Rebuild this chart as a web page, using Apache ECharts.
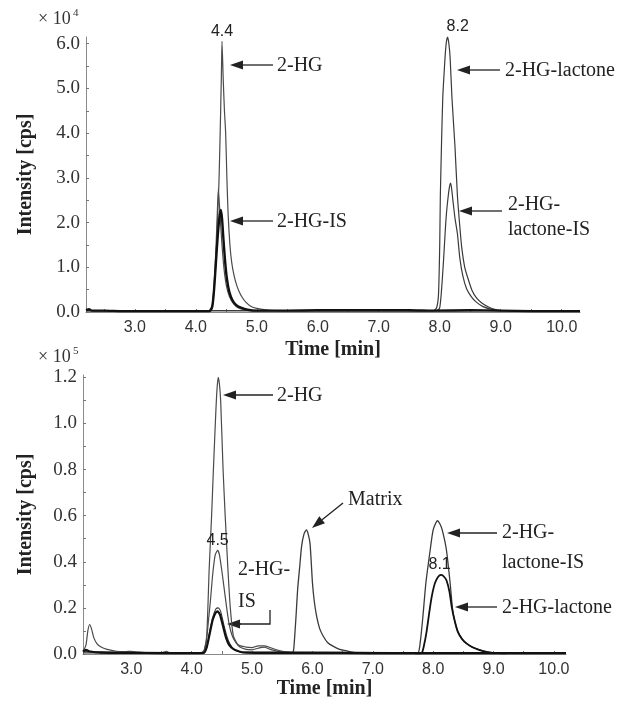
<!DOCTYPE html>
<html><head><meta charset="utf-8">
<script src="https://cdn.jsdelivr.net/npm/echarts@6/dist/echarts.min.js"></script>
<style>html,body{margin:0;padding:0;background:#fff}#c{width:622px;height:706px}</style>
</head><body><div id="c"></div>
<script>
// ---------- DATA (time [min], intensity in ×10^4 cps for top, ×10^5 cps for bottom) ----------
const xTicks = [3, 4, 5, 6, 7, 8, 9, 10];
const topYTicks = [0, 1, 2, 3, 4, 5, 6];
const botYTicks = [0, 0.2, 0.4, 0.6, 0.8, 1.0, 1.2];

// Top panel
const top2HG = [[2.2,0.03],[3.0,0.02],[4.0,0.02],[4.24,0.02],[4.27,0.1],[4.3,0.5],[4.33,1.1],[4.36,2.2],[4.38,2.9],[4.4,4.0],[4.42,5.3],[4.43,6.05],[4.45,5.2],[4.47,4.5],[4.49,4.0],[4.51,3.0],[4.53,2.2],[4.56,1.5],[4.59,1.1],[4.63,0.8],[4.67,0.6],[4.71,0.46],[4.76,0.33],[4.82,0.22],[4.9,0.13],[5.0,0.08],[5.15,0.05],[5.4,0.03],[6.5,0.03],[10.3,0.03]];
const top2HGb = [[2.2,0.03],[4.24,0.02],[4.27,0.15],[4.3,0.6],[4.33,1.4],[4.35,2.1],[4.37,2.75],[4.39,2.35],[4.41,1.9],[4.43,1.5],[4.46,1.0],[4.5,0.6],[4.55,0.35],[4.62,0.18],[4.7,0.09],[4.8,0.05],[5.0,0.03],[10.3,0.03]];
const top2HGIS = [[2.2,0.04],[2.25,0.06],[2.3,0.03],[2.5,0.03],[2.8,0.02],[3.2,0.02],[3.6,0.02],[4.0,0.02],[4.22,0.02],[4.27,0.12],[4.3,0.5],[4.33,1.1],[4.36,1.7],[4.39,2.15],[4.41,2.28],[4.43,2.1],[4.45,1.7],[4.48,1.15],[4.51,0.75],[4.55,0.45],[4.6,0.27],[4.66,0.16],[4.75,0.09],[4.85,0.05],[5.0,0.03],[5.5,0.03],[6.0,0.04],[6.5,0.04],[7.0,0.04],[7.5,0.04],[7.9,0.03],[8.5,0.04],[9.0,0.03],[9.5,0.02],[10.3,0.02]];
const topLac = [[2.2,0.03],[7.9,0.03],[7.95,0.1],[7.98,0.4],[8.0,1.5],[8.01,2.6],[8.03,3.8],[8.05,4.8],[8.07,5.3],[8.09,5.75],[8.11,6.05],[8.13,6.15],[8.15,6.0],[8.17,5.7],[8.2,4.8],[8.25,3.7],[8.29,2.6],[8.33,1.9],[8.36,1.45],[8.41,1.0],[8.47,0.72],[8.53,0.48],[8.6,0.32],[8.69,0.2],[8.8,0.11],[8.9,0.06],[9.01,0.03],[10.3,0.03]];
const topLacIS = [[2.2,0.03],[7.95,0.03],[8.0,0.1],[8.03,0.5],[8.06,1.1],[8.09,1.8],[8.11,2.2],[8.14,2.6],[8.16,2.8],[8.18,2.88],[8.2,2.7],[8.22,2.45],[8.25,2.1],[8.29,1.75],[8.33,1.2],[8.38,0.8],[8.44,0.52],[8.52,0.34],[8.6,0.22],[8.71,0.12],[8.85,0.06],[9.0,0.03],[10.3,0.03]];

// Bottom panel
const bot2HG = [[2.2,0.01],[2.25,0.04],[2.28,0.1],[2.31,0.128],[2.34,0.11],[2.38,0.07],[2.43,0.045],[2.5,0.03],[2.6,0.02],[2.75,0.012],[2.9,0.01],[3.0,0.012],[3.1,0.008],[3.3,0.005],[3.5,0.005],[3.58,0.012],[3.63,0.005],[3.8,0.004],[4.0,0.004],[4.17,0.006],[4.21,0.02],[4.25,0.08],[4.29,0.37],[4.33,0.6],[4.36,0.8],[4.4,1.05],[4.42,1.15],[4.44,1.2],[4.46,1.17],[4.48,1.1],[4.52,0.8],[4.555,0.6],[4.6,0.37],[4.64,0.2],[4.69,0.08],[4.77,0.04],[4.9,0.03],[5.0,0.028],[5.1,0.035],[5.2,0.035],[5.3,0.028],[5.45,0.015],[5.6,0.008],[5.8,0.005],[7.0,0.004],[10.2,0.004]];
const bot2HGb = [[2.2,0.01],[4.18,0.005],[4.24,0.05],[4.28,0.15],[4.31,0.23],[4.35,0.35],[4.39,0.43],[4.43,0.45],[4.46,0.43],[4.5,0.36],[4.54,0.28],[4.58,0.2],[4.62,0.13],[4.67,0.08],[4.73,0.05],[4.8,0.03],[4.9,0.02],[5.0,0.018],[5.1,0.025],[5.2,0.03],[5.3,0.02],[5.45,0.01],[5.6,0.005],[10.2,0.004]];
const bot2HGIS = [[2.2,0.012],[2.25,0.018],[2.3,0.012],[2.5,0.006],[3.0,0.005],[3.5,0.004],[4.0,0.004],[4.2,0.005],[4.25,0.03],[4.3,0.09],[4.35,0.15],[4.4,0.18],[4.43,0.185],[4.47,0.17],[4.52,0.12],[4.57,0.07],[4.62,0.04],[4.7,0.02],[4.8,0.01],[4.9,0.006],[5.5,0.005],[6.0,0.005],[7.0,0.004],[8.0,0.004],[9.0,0.004],[10.2,0.004]];
const bot2HGISb = [[2.2,0.005],[4.2,0.005],[4.25,0.03],[4.3,0.1],[4.35,0.16],[4.4,0.195],[4.44,0.2],[4.48,0.185],[4.53,0.13],[4.58,0.08],[4.63,0.045],[4.7,0.02],[4.8,0.01],[10.2,0.004]];
const botMatrix = [[5.6,0.003],[5.67,0.005],[5.69,0.02],[5.71,0.09],[5.73,0.17],[5.755,0.28],[5.79,0.38],[5.82,0.466],[5.86,0.52],[5.9,0.538],[5.93,0.52],[5.96,0.48],[5.98,0.4],[6.0,0.31],[6.03,0.23],[6.07,0.163],[6.12,0.11],[6.18,0.077],[6.25,0.05],[6.34,0.034],[6.45,0.02],[6.57,0.014],[6.65,0.008],[6.8,0.004],[6.95,0.002]];
const botLacIS = [[7.6,0.003],[7.75,0.005],[7.79,0.06],[7.83,0.163],[7.88,0.31],[7.95,0.45],[8.0,0.538],[8.07,0.578],[8.11,0.565],[8.15,0.538],[8.22,0.45],[8.28,0.31],[8.32,0.196],[8.36,0.14],[8.41,0.096],[8.48,0.065],[8.55,0.047],[8.65,0.03],[8.77,0.018],[8.9,0.009],[8.99,0.005],[9.2,0.003]];
const botLac = [[7.7,0.003],[7.81,0.005],[7.85,0.04],[7.89,0.096],[7.93,0.17],[7.97,0.24],[8.01,0.29],[8.05,0.32],[8.1,0.34],[8.14,0.343],[8.18,0.335],[8.22,0.32],[8.27,0.27],[8.31,0.2],[8.36,0.14],[8.41,0.095],[8.48,0.064],[8.55,0.046],[8.65,0.029],[8.77,0.017],[8.9,0.008],[9.0,0.005],[9.2,0.003]];

const peakLabels = [
  {panel: 0, coord: [4.43, 6.05], text: '4.4', off: [0, 0]},
  {panel: 0, coord: [8.13, 6.15], text: '8.2', off: [10, 0]},
  {panel: 1, coord: [4.43, 0.45], text: '4.5', off: [0, 0]},
  {panel: 1, coord: [8.14, 0.343], text: '8.1', off: [-2, 0]}
];

// ---------- CHART ----------
const SERIF = 'Liberation Serif';
const SANS = 'Liberation Sans';
const chart = echarts.init(document.getElementById('c'), null, {renderer: 'canvas'});

function halfSteps(a, b, s) { const r = []; for (let v = a; v <= b + 1e-9; v += s) r.push(+v.toFixed(3)); return r; }

function xAxis(gi, max, gap) {
  return {
    type: 'value', gridIndex: gi, min: 2.2, max: max,
    axisLine: {show: true, onZero: false, lineStyle: {color: '#8a8a8a', width: 1}},
    axisTick: {show: true, inside: true, length: 3, lineStyle: {color: '#777'}, customValues: halfSteps(2.5, 10, 0.5)},
    axisLabel: {customValues: xTicks, formatter: v => v.toFixed(1), fontFamily: SANS, fontSize: 16, color: '#333', margin: 8},
    splitLine: {show: false},
    name: 'Time [min]', nameLocation: 'middle', nameGap: gap,
    nameTextStyle: {fontFamily: SERIF, fontWeight: 'bold', fontSize: 20, color: '#222'}
  };
}
function yAxis(gi, max, ticks, minor, gap) {
  return {
    type: 'value', gridIndex: gi, min: 0, max: max,
    axisLine: {show: true, lineStyle: {color: '#8a8a8a', width: 1}},
    axisTick: {show: true, inside: true, length: 3, lineStyle: {color: '#777'}, customValues: minor},
    axisLabel: {customValues: ticks, formatter: v => v.toFixed(1), fontFamily: SERIF, fontSize: 19, color: '#333', margin: 6},
    splitLine: {show: false},
    name: 'Intensity [cps]', nameLocation: 'middle', nameGap: gap,
    nameTextStyle: {fontFamily: SERIF, fontWeight: 'bold', fontSize: 20, color: '#222'}
  };
}
function line(data, gi, color, width, z) {
  return {type: 'line', xAxisIndex: gi, yAxisIndex: gi, data: data, showSymbol: false, symbol: 'none',
    smooth: 0.2, lineStyle: {color: color, width: width}, z: z || 2, silent: true, animation: false};
}

const series = [
  line(top2HG, 0, '#4a4a4a', 1.2),
  line(top2HGb, 0, '#4a4a4a', 1.2),
  line(top2HGIS, 0, '#111', 2.4, 3),
  line(topLac, 0, '#3a3a3a', 1.2),
  line(topLacIS, 0, '#3a3a3a', 1.2),
  line(bot2HG, 1, '#4a4a4a', 1.2),
  line(bot2HGb, 1, '#4a4a4a', 1.2),
  line(bot2HGIS, 1, '#111', 2.2, 3),
  line(bot2HGISb, 1, '#3a3a3a', 1.1),
  line(botMatrix, 1, '#3a3a3a', 1.3),
  line(botLacIS, 1, '#3a3a3a', 1.3),
  line(botLac, 1, '#111', 1.8, 3)
];
// peak labels as markPoints
peakLabels.forEach(p => {
  series.push({
    type: 'line', xAxisIndex: p.panel, yAxisIndex: p.panel, data: [], silent: true, animation: false,
    markPoint: {symbol: 'circle', symbolSize: 0, silent: true, animation: false,
      data: [{coord: p.coord, name: p.text}],
      label: {show: true, position: 'top', distance: 2, offset: p.off, formatter: '{b}', fontFamily: SANS, fontSize: 16, color: '#222'}}
  });
});

// annotations
const TXT = {font: '20px "Liberation Serif"', fill: '#222'};
const graphics = [];
function text(x, y, s, lh, va) {
  graphics.push({type: 'text', x: x, y: y, silent: true,
    style: Object.assign({text: s, verticalAlign: va || 'middle', align: 'left', lineHeight: lh || 22}, TXT)});
}
function arrow(x1, y1, x2, y2) {
  const dx = x2 - x1, dy = y2 - y1, L = Math.hypot(dx, dy), ux = dx / L, uy = dy / L;
  const hl = 13, hw = 4.5;
  const bx = x2 - ux * hl, by = y2 - uy * hl;
  graphics.push({type: 'line', silent: true, shape: {x1: x1, y1: y1, x2: bx, y2: by}, style: {stroke: '#222', lineWidth: 1.3}});
  graphics.push({type: 'polygon', silent: true, shape: {points: [[x2, y2], [bx - uy * hw, by + ux * hw], [bx + uy * hw, by - ux * hw]]}, style: {fill: '#222'}});
}
// exponent labels
graphics.push({type: 'text', x: 38, y: 19, silent: true, style: {text: '× 10', font: '18px "Liberation Serif"', fill: '#333', verticalAlign: 'middle'}});
graphics.push({type: 'text', x: 73, y: 8, silent: true, style: {text: '4', font: '11px "Liberation Serif"', fill: '#333', verticalAlign: 'top'}});
graphics.push({type: 'text', x: 38, y: 357, silent: true, style: {text: '× 10', font: '18px "Liberation Serif"', fill: '#333', verticalAlign: 'middle'}});
graphics.push({type: 'text', x: 73, y: 346, silent: true, style: {text: '5', font: '11px "Liberation Serif"', fill: '#333', verticalAlign: 'top'}});
// top panel
arrow(273, 65, 230, 65); text(277, 66, '2-HG');
arrow(273, 221, 230, 221); text(277, 222, '2-HG-IS');
arrow(500, 70, 457, 70); text(505, 71, '2-HG-lactone');
arrow(502, 211, 459, 211); text(508, 192, '2-HG-\nlactone-IS', 25, 'top');
// bottom panel
arrow(273, 395, 223, 395); text(277, 396, '2-HG');
arrow(343, 503, 312, 528); text(348, 500, 'Matrix');
text(238, 554, '2-HG-\nIS', 32, 'top');
graphics.push({type: 'polyline', silent: true, shape: {points: [[270, 610], [270, 624], [240, 624]]}, style: {stroke: '#222', lineWidth: 1.3, fill: null}});
arrow(241, 624, 227, 624);
arrow(497, 533, 447, 533); text(502, 518, '2-HG-\nlactone-IS', 30, 'top');
arrow(497, 607, 455, 607); text(502, 608, '2-HG-lactone');

chart.setOption({
  animation: false,
  backgroundColor: '#fff',
  grid: [
    {left: 86, width: 494, top: 37, height: 275},
    {left: 83, width: 483, top: 375, height: 279}
  ],
  xAxis: [xAxis(0, 10.3, 28), xAxis(1, 10.2, 25)],
  yAxis: [
    yAxis(0, 6.15, topYTicks, halfSteps(0, 6, 0.5), 50),
    yAxis(1, 1.21, botYTicks, halfSteps(0, 1.2, 0.1), 47)
  ],
  series: series,
  graphic: graphics
});
</script></body></html>
